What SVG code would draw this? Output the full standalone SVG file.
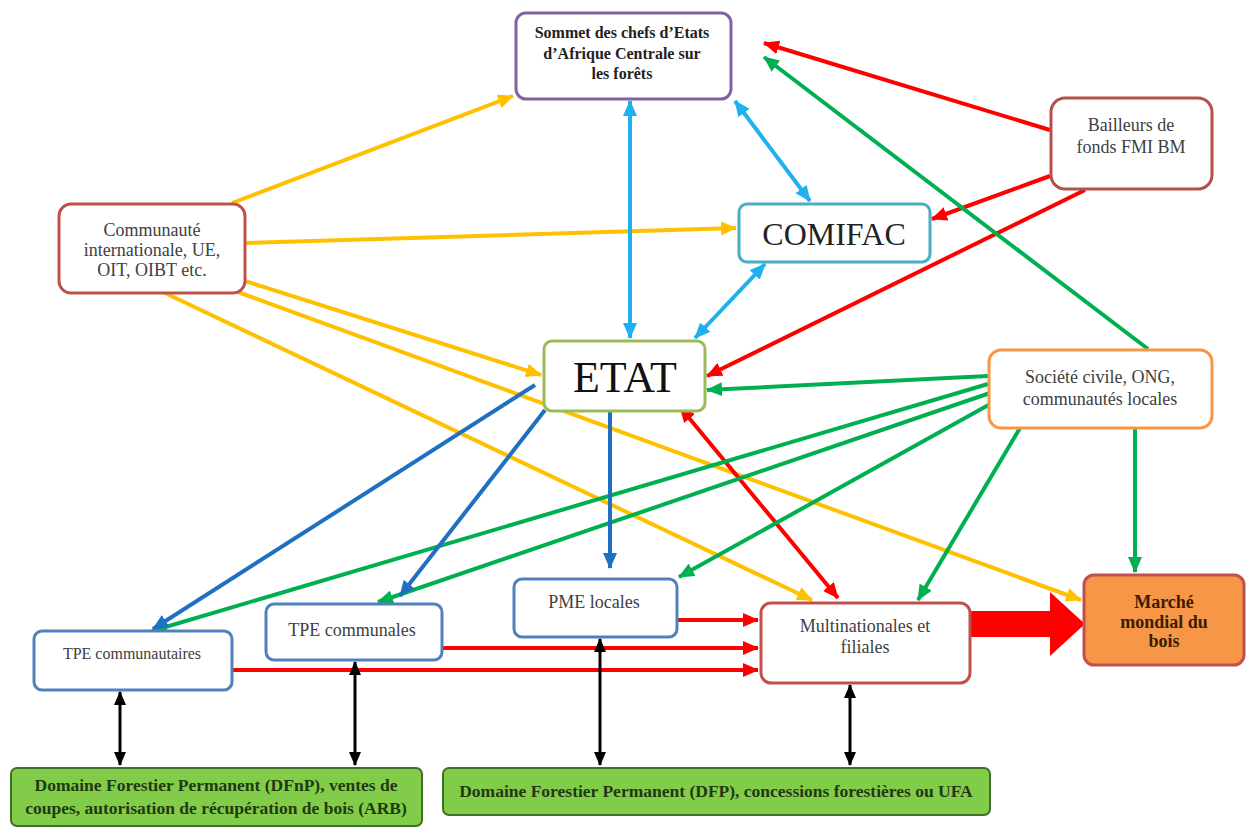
<svg xmlns="http://www.w3.org/2000/svg" width="1247" height="828" viewBox="0 0 1247 828">
<defs>
<style>
.box{fill:#fff;stroke-width:3}
.t{font-family:"Liberation Serif",serif;font-size:18px;fill:#404040;text-anchor:middle}
.tb{font-family:"Liberation Serif",serif;font-size:16px;font-weight:bold;fill:#222;text-anchor:middle}
.tm{font-family:"Liberation Serif",serif;font-size:18px;font-weight:bold;fill:#3a1d00;text-anchor:middle}
.td{font-family:"Liberation Serif",serif;font-size:17.5px;font-weight:bold;fill:#1f3a10;text-anchor:middle}
.c{fill:none;stroke-width:4}
.y{stroke:#ffc000}.r{stroke:#ff0000}.g{stroke:#00b050}.lb{stroke:#1fb0f0}.db{stroke:#1f70c0}.k{stroke:#000;stroke-width:3}
</style>
<marker id="my" markerUnits="userSpaceOnUse" markerWidth="16" markerHeight="14" refX="15" refY="7" orient="auto-start-reverse"><path d="M0,0L16,7L0,14z" fill="#ffc000"/></marker>
<marker id="mr" markerUnits="userSpaceOnUse" markerWidth="16" markerHeight="14" refX="15" refY="7" orient="auto-start-reverse"><path d="M0,0L16,7L0,14z" fill="#ff0000"/></marker>
<marker id="mg" markerUnits="userSpaceOnUse" markerWidth="16" markerHeight="14" refX="15" refY="7" orient="auto-start-reverse"><path d="M0,0L16,7L0,14z" fill="#00b050"/></marker>
<marker id="mlb" markerUnits="userSpaceOnUse" markerWidth="16" markerHeight="14" refX="15" refY="7" orient="auto-start-reverse"><path d="M0,0L16,7L0,14z" fill="#1fb0f0"/></marker>
<marker id="mdb" markerUnits="userSpaceOnUse" markerWidth="16" markerHeight="14" refX="15" refY="7" orient="auto-start-reverse"><path d="M0,0L16,7L0,14z" fill="#1f70c0"/></marker>
<marker id="mk" markerUnits="userSpaceOnUse" markerWidth="14" markerHeight="12" refX="13" refY="6" orient="auto-start-reverse"><path d="M0,0L14,6L0,12z" fill="#000"/></marker>
</defs>
<rect width="1247" height="828" fill="#fff"/>
<g id="connectors">
<line class="c y" x1="232" y1="203" x2="513" y2="96" marker-end="url(#my)"/>
<line class="c y" x1="245" y1="243" x2="736" y2="228" marker-end="url(#my)"/>
<line class="c y" x1="245" y1="281" x2="541" y2="375" marker-end="url(#my)"/>
<line class="c y" x1="238" y1="292" x2="1081" y2="600" marker-end="url(#my)"/>
<line class="c y" x1="165" y1="293" x2="812" y2="600" marker-end="url(#my)"/>
<line class="c r" x1="1050" y1="130" x2="764" y2="43" marker-end="url(#mr)"/>
<line class="c r" x1="1050" y1="176" x2="932" y2="219" marker-end="url(#mr)"/>
<line class="c r" x1="1085" y1="190" x2="707" y2="376" marker-end="url(#mr)"/>
<line class="c r" x1="838" y1="598" x2="680" y2="407" marker-start="url(#mr)" marker-end="url(#mr)"/>
<line class="c r" x1="232" y1="670" x2="758" y2="670" marker-end="url(#mr)"/>
<line class="c r" x1="442" y1="648" x2="758" y2="648" marker-end="url(#mr)"/>
<line class="c r" x1="677" y1="620" x2="758" y2="620" marker-end="url(#mr)"/>
<path d="M970,611H1050V592L1085,624L1050,656V637H970Z" fill="#ff0000"/>
<line class="c g" x1="1148" y1="349" x2="764" y2="57" marker-end="url(#mg)"/>
<line class="c g" x1="988" y1="376" x2="707" y2="390" marker-end="url(#mg)"/>
<line class="c g" x1="988" y1="384" x2="152" y2="631" marker-end="url(#mg)"/>
<line class="c g" x1="990" y1="393" x2="378" y2="602" marker-end="url(#mg)"/>
<line class="c g" x1="992" y1="403" x2="679" y2="577" marker-end="url(#mg)"/>
<line class="c g" x1="1020" y1="428" x2="918" y2="600" marker-end="url(#mg)"/>
<line class="c g" x1="1135" y1="428" x2="1135" y2="572" marker-end="url(#mg)"/>
<line class="c lb" x1="630" y1="101" x2="630" y2="338" marker-start="url(#mlb)" marker-end="url(#mlb)"/>
<line class="c lb" x1="735" y1="101" x2="810" y2="201" marker-start="url(#mlb)" marker-end="url(#mlb)"/>
<line class="c lb" x1="765" y1="264" x2="695" y2="338" marker-start="url(#mlb)" marker-end="url(#mlb)"/>
<line class="c db" x1="535" y1="385" x2="153" y2="629" marker-end="url(#mdb)"/>
<line class="c db" x1="545" y1="410" x2="400" y2="596" marker-end="url(#mdb)"/>
<line class="c db" x1="610" y1="411" x2="610" y2="568" marker-end="url(#mdb)"/>
<line class="c k" x1="120" y1="692" x2="120" y2="765" marker-start="url(#mk)" marker-end="url(#mk)"/>
<line class="c k" x1="355" y1="662" x2="355" y2="765" marker-start="url(#mk)" marker-end="url(#mk)"/>
<line class="c k" x1="600" y1="639" x2="600" y2="765" marker-start="url(#mk)" marker-end="url(#mk)"/>
<line class="c k" x1="850" y1="685" x2="850" y2="765" marker-start="url(#mk)" marker-end="url(#mk)"/>
</g>
<g id="sommet">
<rect class="box" x="516" y="13" width="215" height="86" rx="10" stroke="#8064a2"/>
<text class="tb" x="622" y="38">Sommet des chefs d’Etats</text>
<text class="tb" x="622" y="59">d’Afrique Centrale sur</text>
<text class="tb" x="622" y="79">les forêts</text>
</g>
<g id="bailleurs">
<rect class="box" x="1051" y="98" width="161" height="91" rx="14" stroke="#b5504d"/>
<text class="t" x="1131" y="131">Bailleurs de</text>
<text class="t" x="1131" y="153">fonds FMI BM</text>
</g>
<g id="communaute">
<rect class="box" x="59" y="204" width="186" height="89" rx="12" stroke="#c0504d"/>
<text class="t" x="152" y="236">Communauté</text>
<text class="t" x="152" y="256">internationale, UE,</text>
<text class="t" x="152" y="276">OIT, OIBT etc.</text>
</g>
<g id="comifac">
<rect class="box" x="739" y="204" width="191" height="58" rx="8" stroke="#4bacc6"/>
<text x="834" y="245" font-family="Liberation Serif, serif" font-size="32" fill="#222" text-anchor="middle">COMIFAC</text>
</g>
<g id="etat">
<rect class="box" x="544" y="341" width="161" height="70" rx="8" stroke="#9bbb59"/>
<text x="625" y="392" font-family="Liberation Serif, serif" font-size="44" fill="#111" text-anchor="middle">ETAT</text>
</g>
<g id="societe">
<rect class="box" x="989" y="350" width="223" height="78" rx="12" stroke="#f79646"/>
<text class="t" x="1100" y="383">Société civile, ONG,</text>
<text class="t" x="1100" y="405">communautés locales</text>
</g>
<g id="tpe-communautaires">
<rect class="box" x="34" y="631" width="198" height="59" rx="8" stroke="#4f81bd"/>
<text class="t" x="132" y="659" font-size="16" style="font-size:16px">TPE communautaires</text>
</g>
<g id="tpe-communales">
<rect class="box" x="266" y="604" width="176" height="56" rx="8" stroke="#4f81bd"/>
<text class="t" x="352" y="636">TPE communales</text>
</g>
<g id="pme">
<rect class="box" x="514" y="579" width="163" height="58" rx="8" stroke="#4f81bd"/>
<text class="t" x="594" y="608">PME locales</text>
</g>
<g id="multinationales">
<rect class="box" x="761" y="603" width="209" height="80" rx="10" stroke="#c0504d"/>
<text class="t" x="865" y="632">Multinationales et</text>
<text class="t" x="865" y="653">filiales</text>
</g>
<g id="marche">
<rect x="1084" y="575" width="160" height="90" rx="10" fill="#f79646" stroke="#c0504d" stroke-width="3"/>
<text class="tm" x="1164" y="608">Marché</text>
<text class="tm" x="1164" y="628">mondial du</text>
<text class="tm" x="1164" y="647">bois</text>
</g>
<g id="dfnp">
<rect x="11" y="768" width="411" height="58" rx="6" fill="#82cc4a" stroke="#3f6f2a" stroke-width="2"/>
<text class="td" x="216" y="791">Domaine Forestier Permanent (DFnP), ventes de</text>
<text class="td" x="216" y="814">coupes, autorisation de récupération de bois (ARB)</text>
</g>
<g id="dfp">
<rect x="443" y="768" width="547" height="47" rx="6" fill="#82cc4a" stroke="#3f6f2a" stroke-width="2"/>
<text class="td" x="716" y="797">Domaine Forestier Permanent (DFP), concessions forestières ou UFA</text>
</g>
</svg>
